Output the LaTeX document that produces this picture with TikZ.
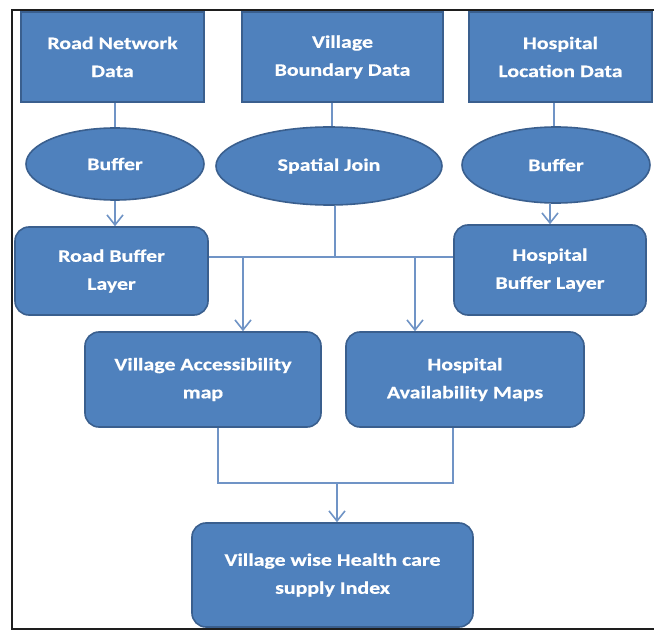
\documentclass[tikz,border=0pt]{standalone}
\usepackage{fontspec}
\setmainfont{Carlito}[FakeStretch=1.25,FakeBold=0.6]
\usetikzlibrary{arrows.meta,shapes.geometric}
\definecolor{boxblue}{HTML}{4F81BD}
\definecolor{edgeblue}{HTML}{3A5F8E}
\definecolor{linkblue}{HTML}{7094C6}
\definecolor{framegray}{HTML}{1E1E1E}
\begin{document}
\begin{tikzpicture}[x=1pt,y=-1pt,
  base/.style={draw=edgeblue, line width=1.6pt, fill=boxblue, text=white,
    font=\bfseries\fontsize{17.5}{28}\selectfont, align=center, inner sep=0pt},
  databox/.style={base, rectangle},
  procell/.style={base, ellipse},
  rbox/.style={base, rectangle, rounded corners=14pt},
  link/.style={draw=linkblue, line width=1.6pt},
  arr/.style={link, -{Straight Barb[length=10pt,width=16pt,line width=1.6pt]}}]
\useasboundingbox (0,0) rectangle (654,631);
\fill[white] (0,0) rectangle (654,631);
% frame
\draw[framegray, line width=2.6pt] (670,10) -- (12,10) -- (12,629) -- (670,629);
% top data boxes
\node[databox, minimum width=183pt, minimum height=90pt] (rnd) at (112.5,57) {Road Network\\Data};
\node[databox, minimum width=201pt, minimum height=90pt] (vbd) at (342.5,57) {Village\\Boundary Data};
\node[databox, minimum width=183pt, minimum height=90pt] (hld) at (560.5,57) {Hospital\\Location Data};
% processes
\node[procell, minimum width=178pt, minimum height=72pt] (buf1) at (115,164) {Buffer};
\node[procell, minimum width=226pt, minimum height=78pt] (sj) at (329,166) {Spatial Join};
\node[procell, minimum width=188pt, minimum height=76pt] (buf2) at (556,165) {Buffer};
% layers
\node[rbox, minimum width=193pt, minimum height=88pt] (rbl) at (111.5,271) {Road Buffer\\Layer};
\node[rbox, minimum width=192pt, minimum height=90pt] (hbl) at (550,270) {Hospital\\Buffer Layer};
\node[rbox, minimum width=236pt, minimum height=95pt] (vam) at (203,379.5) {Village Accessibility\\map};
\node[rbox, minimum width=238pt, minimum height=95pt] (ham) at (465,379.5) {Hospital\\Availability Maps};
\node[rbox, minimum width=281pt, minimum height=104pt] (hci) at (332.5,575) {Village wise Health care\\supply Index};
% connectors top
\draw[link] (rnd.south -| buf1.north) -- (buf1.north);
\draw[link] (vbd.south -| 332,0) -- (sj.north -| 332,0);
\draw[link] (hld.south -| 554,0) -- (buf2.north -| 554,0);
\draw[arr] (buf1.south) -- (rbl.north -| buf1.south);
\draw[arr] (buf2.south -| 550,0) -- (hbl.north);
% spatial join distribution
\coordinate (sjt) at (335,257);
\draw[link] (sj.south -| sjt) -- (sjt);
\draw[link] (rbl.east |- sjt) -- (hbl.west |- sjt);
\coordinate (ja) at (243,257);
\coordinate (jb) at (415,257);
\draw[arr] (ja) -- (vam.north -| ja);
\draw[arr] (jb) -- (ham.north -| jb);
% merge to index
\coordinate (ma) at (218,483);
\coordinate (mb) at (453,483);
\coordinate (mc) at (337,483);
\draw[link] (vam.south -| ma) -- (ma) -- (mb) -- (ham.south -| mb);
\draw[arr] (mc) -- (hci.north -| mc);
\end{tikzpicture}
\end{document}
